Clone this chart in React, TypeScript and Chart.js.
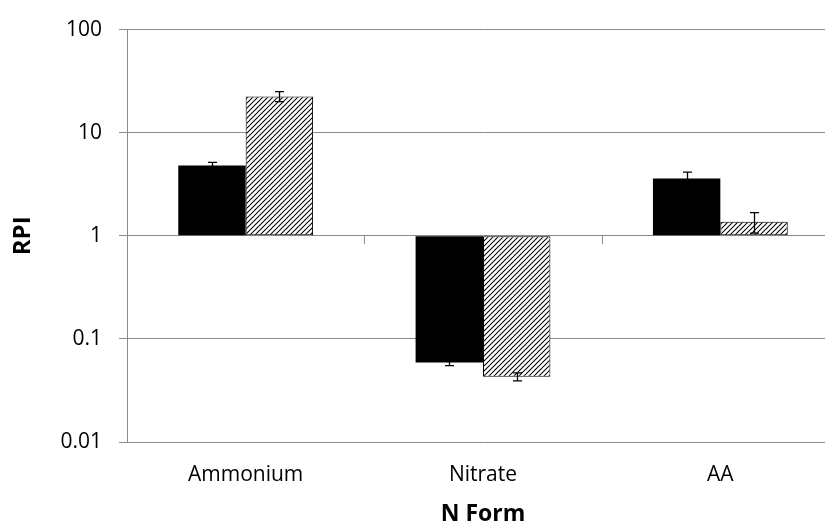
import { useEffect, useRef } from 'react';
import { Chart, registerables } from 'chart.js';

Chart.register(...registerables);

const categories = ['Ammonium', 'Nitrate', 'AA'];
const solidValues = [4.8, 0.059, 3.6];
const solidErrors = [0.35, 0.004, 0.55];
const hatchedValues = [22.5, 0.043, 1.37];
const hatchedErrors = [2.5, 0.0038, 0.31];
const yTickValues = [0.01, 0.1, 1, 10, 100];
const yTickLabels = ['0.01', '0.1', '1', '10', '100'];
const yAxisTitle = 'RPI';
const xAxisTitle = 'N Form';
const barBase = 1;

const FONT = "'Open Sans', sans-serif";
const GRID = '#8a8a8a';

function makeHatch(): CanvasPattern | string {
  const size = 5;
  const c = document.createElement('canvas');
  c.width = size;
  c.height = size;
  const g = c.getContext('2d');
  if (!g) return '#888';
  g.fillStyle = '#fff';
  g.fillRect(0, 0, size, size);
  g.strokeStyle = '#000';
  g.lineWidth = 1.05;
  g.beginPath();
  for (const k of [0, size, 2 * size]) {
    g.moveTo(-2, k + 2);
    g.lineTo(k + 2, -2);
  }
  g.stroke();
  return g.createPattern(c, 'repeat') || '#888';
}

const errorSets = [solidErrors, hatchedErrors];

const errorBarsPlugin = {
  id: 'errorBars',
  afterDatasetsDraw(chart: any) {
    const ctx = chart.ctx;
    const y = chart.scales.y;
    chart.data.datasets.forEach((ds: any, i: number) => {
      const meta = chart.getDatasetMeta(i);
      const errs = errorSets[i];
      meta.data.forEach((bar: any, j: number) => {
        const v = ds.data[j];
        const e = errs[j];
        const top = y.getPixelForValue(v + e);
        const bot = y.getPixelForValue(v - e);
        const x = Math.round(bar.x) + 0.5;
        ctx.save();
        ctx.strokeStyle = '#000';
        ctx.lineWidth = 1.3;
        ctx.beginPath();
        ctx.moveTo(x, top);
        ctx.lineTo(x, bot);
        ctx.moveTo(x - 4.5, top);
        ctx.lineTo(x + 4.5, top);
        ctx.moveTo(x - 4.5, bot);
        ctx.lineTo(x + 4.5, bot);
        ctx.stroke();
        ctx.restore();
      });
    });
  },
};

const boundaryTicksPlugin = {
  id: 'boundaryTicks',
  afterDraw(chart: any) {
    const ctx = chart.ctx;
    const xs = chart.scales.x;
    const ys = chart.scales.y;
    const y1 = Math.round(ys.getPixelForValue(barBase));
    ctx.save();
    ctx.strokeStyle = GRID;
    ctx.lineWidth = 1;
    ctx.beginPath();
    for (let i = 1; i < categories.length; i++) {
      const px = Math.round((xs.getPixelForValue(i - 1) + xs.getPixelForValue(i)) / 2) + 0.5;
      ctx.moveTo(px, y1);
      ctx.lineTo(px, y1 + 8);
    }
    ctx.stroke();
    ctx.restore();
  },
};

export default function App() {
  const ref = useRef<HTMLCanvasElement | null>(null);

  useEffect(() => {
    if (!ref.current) return;
    const hatch = makeHatch();
    const chart = new Chart(ref.current, {
      type: 'bar',
      data: {
        labels: categories,
        datasets: [
          {
            label: 'Solid',
            data: solidValues,
            backgroundColor: '#000',
            borderColor: '#000',
            borderWidth: 0,
            base: barBase,
          } as any,
          {
            label: 'Hatched',
            data: hatchedValues,
            backgroundColor: hatch as any,
            borderColor: '#000',
            borderWidth: 1,
            borderSkipped: false,
            base: barBase,
          } as any,
        ],
      },
      options: {
        responsive: false,
        animation: false,
        devicePixelRatio: 1,
        layout: { padding: { left: 0, right: 21, top: 25, bottom: 0 } },
        plugins: { legend: { display: false }, tooltip: { enabled: false } },
        datasets: { bar: { categoryPercentage: 0.568, barPercentage: 1 } },
        scales: {
          x: {
            grid: { display: false, drawTicks: false },
            border: { display: false },
            ticks: { padding: 20, color: '#000', font: { family: FONT, size: 21 } },
            title: {
              display: true,
              text: xAxisTitle,
              color: '#000',
              font: { family: FONT, size: 23, weight: 'bold', lineHeight: 1 },
              padding: 0,
            },
            afterFit(s: any) {
              s.height = 84;
            },
          },
          y: {
            type: 'logarithmic',
            min: 0.01,
            max: 100,
            afterBuildTicks(s: any) {
              s.ticks = yTickValues.map((v) => ({ value: v }));
            },
            ticks: {
              padding: 17,
              color: '#000',
              font: { family: FONT, size: 21 },
              callback: (v: any) => {
                const idx = yTickValues.indexOf(Number(v));
                return idx >= 0 ? yTickLabels[idx] : '';
              },
            },
            grid: { color: GRID, lineWidth: 1, tickLength: 8, drawTicks: true },
            border: { display: true, color: GRID, width: 1 },
            title: {
              display: true,
              text: yAxisTitle,
              color: '#000',
              font: { family: FONT, size: 24, weight: 'bold', lineHeight: 1 },
              padding: { top: 11.5, bottom: 0 },
            },
            afterFit(s: any) {
              s.width = 127;
            },
          },
        },
      } as any,
      plugins: [errorBarsPlugin, boundaryTicksPlugin],
    });
    return () => chart.destroy();
  }, []);

  return (
    <div
      style={{
        position: 'fixed',
        left: 0,
        top: 0,
        width: 825,
        height: 526,
        overflow: 'hidden',
        background: '#fff',
      }}
    >
      <canvas ref={ref} width={860} height={526} style={{ display: 'block' }} />
    </div>
  );
}
